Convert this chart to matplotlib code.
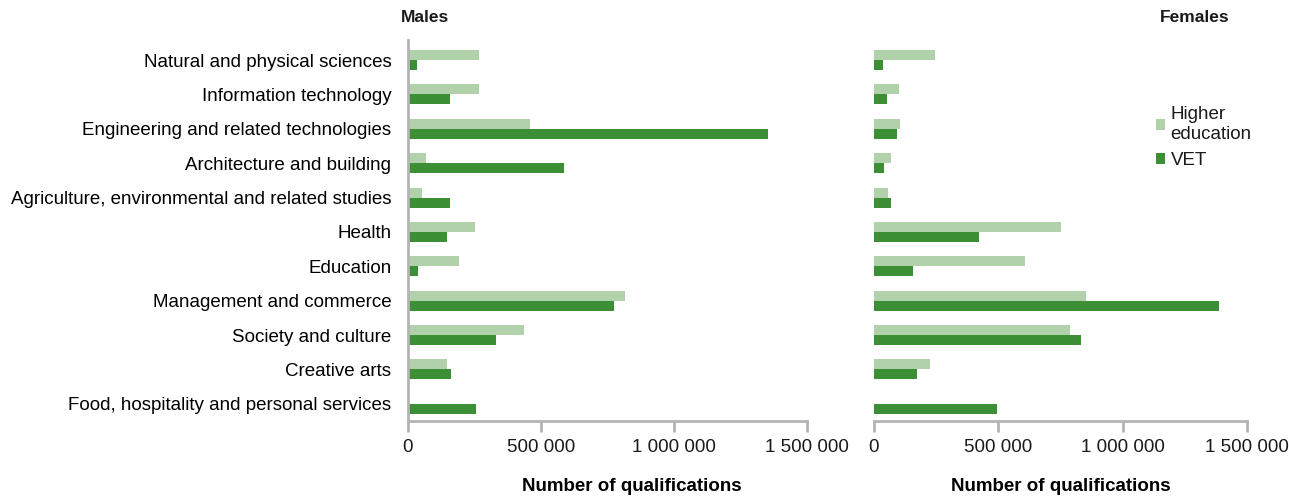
import numpy as np
import matplotlib
matplotlib.use("Agg")
import matplotlib.pyplot as plt
from matplotlib.ticker import FuncFormatter

plt.rcParams['font.family'] = ['Liberation Sans', 'DejaVu Sans']
plt.rcParams['text.color'] = '#1a1a1a'

fields = ["Natural and physical sciences", "Information technology",
          "Engineering and related technologies", "Architecture and building",
          "Agriculture, environmental and related studies", "Health", "Education",
          "Management and commerce", "Society and culture", "Creative arts",
          "Food, hospitality and personal services"]

males_he = [266000, 266000, 459000, 68000, 54000, 253000, 192000, 817000, 438000, 146000, 0]
males_vet = [33000, 158000, 1353000, 588000, 158000, 146000, 38000, 773000, 330000, 163000, 257000]
females_he = [245000, 101000, 106000, 69000, 55000, 751000, 607000, 852000, 787000, 226000, 0]
females_vet = [36000, 54000, 91000, 42000, 69000, 423000, 156000, 1386000, 833000, 175000, 493000]

he_color = "#b0d1aa"
vet_color = "#3d8f36"
axis_grey = "#b4b4b4"
fs = 13.5


def space_fmt(x, pos):
    return "{:,.0f}".format(x).replace(",", " ")


fig = plt.figure(figsize=(12.89, 4.96), dpi=100)
ax_m = fig.add_axes([0.3165, 0.1512, 0.3095, 0.768])
ax_f = fig.add_axes([0.678, 0.1512, 0.2894, 0.768])

y = np.arange(len(fields))
h = 0.29

for ax, he, vet in [(ax_m, males_he, males_vet), (ax_f, females_he, females_vet)]:
    ax.barh(y - h / 2, he, height=h, color=he_color, label="Higher\neducation")
    ax.barh(y + h / 2, vet, height=h, color=vet_color, label="VET")
    ax.set_xlim(0, 1500000)
    ax.set_ylim(len(fields) - 0.5, -0.58)
    ax.set_xticks([0, 500000, 1000000, 1500000])
    ax.xaxis.set_major_formatter(FuncFormatter(space_fmt))
    for s in ["top", "right"]:
        ax.spines[s].set_visible(False)
    ax.spines["bottom"].set_color(axis_grey)
    ax.spines["bottom"].set_linewidth(2)
    ax.tick_params(axis="x", colors=axis_grey, width=2, length=8, labelcolor="#1a1a1a",
                   labelsize=fs, pad=5)
    ax.set_xlabel("Number of qualifications", fontsize=fs, fontweight="bold")

ax_m.xaxis.set_label_coords(0.561, -0.15)
ax_f.xaxis.set_label_coords(0.5, -0.15)

ax_m.spines["left"].set_color(axis_grey)
ax_m.spines["left"].set_linewidth(2)
ax_m.set_yticks(y)
ax_m.set_yticklabels(fields, fontsize=fs)
ax_m.tick_params(axis="y", length=0, pad=12)

ax_f.spines["left"].set_visible(False)
ax_f.set_yticks([])

fig.text(0.311, 0.965, "Males", fontsize=12.5, fontweight="bold", ha="left", va="center")
fig.text(0.927, 0.965, "Females", fontsize=12.5, fontweight="bold", ha="center", va="center")

ax_f.legend(loc="upper left", bbox_to_anchor=(0.71, 0.87), frameon=False, fontsize=fs,
            handlelength=0.5, handleheight=0.5, handletextpad=0.3, labelspacing=0.5)

fig.savefig("out.png", dpi=100)
